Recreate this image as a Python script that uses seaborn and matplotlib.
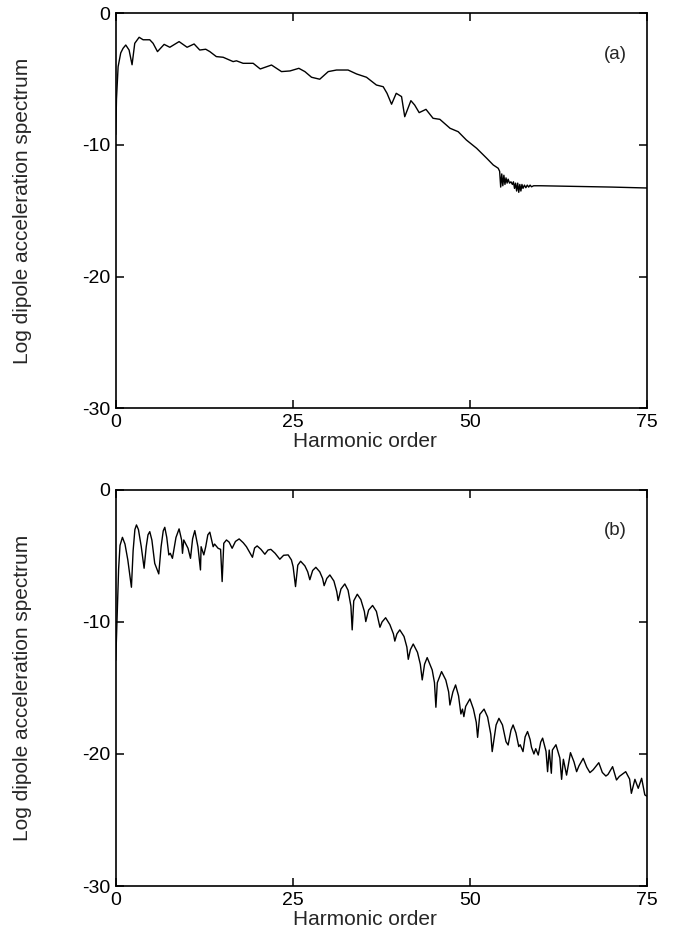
import numpy as np
import pandas as pd
import seaborn as sns
import matplotlib
matplotlib.use("Agg")
import matplotlib.pyplot as plt

# panel (a)
order_a = [0.0, 0.1, 0.33, 0.7, 1.03, 1.41, 1.88, 2.3, 2.68, 3.3, 3.86, 4.8, 5.27, 5.89,
           6.83, 7.63, 8.94, 10.07, 11.06, 11.86, 12.7, 13.28, 14.2, 15.16, 16.57, 17.04,
           17.98, 19.4, 20.4, 21.99, 23.4, 24.6, 25.85, 26.7, 27.64, 28.8, 30.0, 31.17,
           32.8, 34.0, 35.4, 36.8, 37.76, 38.3, 38.94, 39.6, 40.35, 40.8, 41.67, 42.2,
           42.84, 43.8, 44.8, 45.76, 47.2, 48.35, 49.5, 50.95, 52.36, 53.3, 54.0,
           54.2, 54.35, 54.5, 54.65, 54.8, 54.95, 55.1, 55.25, 55.4, 55.6, 55.8, 56.0,
           56.15, 56.3, 56.45, 56.6, 56.75, 56.9, 57.05, 57.2, 57.35, 57.5, 57.7, 57.9,
           58.1, 58.3, 58.5, 58.7, 59.0, 60.0, 65.0, 70.0, 75.0]
spec_a = [-9.2, -6.5, -4.05, -3.0, -2.65, -2.4, -2.78, -3.9, -2.27, -1.81, -2.0, -2.0, -2.27, -2.9,
          -2.35, -2.57, -2.14, -2.57, -2.32, -2.78, -2.72, -2.9, -3.28, -3.33, -3.66, -3.6,
          -3.79, -3.79, -4.22, -3.92, -4.42, -4.37, -4.17, -4.42, -4.85, -5.0, -4.42, -4.3,
          -4.3, -4.6, -4.85, -5.44, -5.57, -6.07, -6.9, -6.07, -6.32, -7.85, -6.63, -6.96,
          -7.54, -7.29, -7.97, -8.05, -8.73, -8.99, -9.62, -10.25, -11.0, -11.52, -11.77,
          -12.0, -13.2, -12.2, -13.1, -12.3, -13.0, -12.5, -12.9, -12.6, -12.9, -12.8, -13.0,
          -12.8, -13.3, -12.9, -13.5, -12.9, -13.6, -13.0, -13.5, -13.0, -13.3, -13.05, -13.25,
          -13.05, -13.2, -13.05, -13.18, -13.1, -13.1, -13.15, -13.2, -13.27]

# panel (b)
order_b = [0.0, 0.18, 0.4, 0.6, 0.94, 1.3, 1.7, 2.21, 2.45, 2.7, 2.92, 3.2, 3.6, 4.0,
           4.3, 4.55, 4.8, 5.1, 5.5, 6.07, 6.4, 6.7, 6.92, 7.2, 7.49, 7.7, 8.0, 8.5,
           8.94, 9.3, 9.42, 9.6, 10.2, 10.55, 10.85, 11.16, 11.6, 11.96, 12.05, 12.43,
           12.7, 13.0, 13.28, 13.75, 13.95, 14.45, 14.8, 15.02, 15.25, 15.63, 16.0, 16.43,
           16.9, 17.42, 18.0, 18.45, 19.3, 19.6, 19.96, 20.5, 21.05, 21.5, 21.9, 22.5,
           23.16, 23.7, 24.34, 24.8, 25.04, 25.38, 25.7, 26.1, 26.7, 27.1, 27.4, 27.8,
           28.25, 28.8, 29.2, 29.42, 29.8, 30.23, 30.8, 31.2, 31.4, 31.8, 32.34, 32.8,
           33.2, 33.38, 33.6, 34.1, 34.6, 35.1, 35.3, 35.7, 36.26, 36.8, 37.1, 37.3,
           37.6, 38.1, 38.7, 39.2, 39.4, 39.7, 40.1, 40.7, 41.1, 41.3, 41.6, 42.0,
           42.6, 43.0, 43.27, 43.6, 43.97, 44.68, 45.0, 45.2, 45.4, 46.0, 46.6, 47.0,
           47.18, 47.6, 47.98, 48.4, 48.73, 48.95, 49.15, 49.4, 50.0, 50.5, 50.9, 51.09,
           51.4, 52.0, 52.5, 52.95, 53.15, 53.7, 54.1, 54.6, 55.1, 55.4, 55.8, 56.1,
           56.5, 56.9, 57.1, 57.5, 57.8, 58.14, 58.5, 58.7, 59.04, 59.3, 59.65, 60.0,
           60.27, 60.75, 60.97, 61.2, 61.5, 61.65, 62.15, 62.7, 62.95, 63.2, 63.65, 64.2,
           64.7, 65.07, 65.4, 66.0, 66.5, 66.95, 67.4, 68.2, 68.7, 69.2, 69.5, 70.15,
           70.7, 71.1, 72.0, 72.55, 72.8, 73.3, 73.77, 74.25, 74.7, 75.0]
spec_b = [-12.9, -9.85, -6.0, -4.2, -3.59, -4.1, -5.3, -7.37, -4.6, -3.0, -2.65, -3.0, -4.3, -5.93,
          -4.3, -3.4, -3.16, -3.8, -5.56, -6.36, -4.3, -3.1, -2.83, -3.6, -4.92, -4.8, -5.18, -3.6,
          -2.95, -3.8, -4.8, -3.79, -4.42, -5.18, -3.7, -3.08, -4.3, -6.06, -4.3, -4.92,
          -4.3, -3.4, -3.2, -4.3, -4.1, -4.42, -4.5, -6.94, -4.04, -3.79, -3.95, -4.42,
          -3.9, -3.71, -4.0, -4.3, -5.1, -4.4, -4.24, -4.5, -4.87, -4.55, -4.5, -4.8,
          -5.25, -4.95, -4.92, -5.3, -5.81, -7.32, -5.7, -5.4, -5.75, -6.2, -6.8, -6.1,
          -5.86, -6.2, -6.7, -7.25, -6.7, -6.44, -6.9, -7.7, -8.38, -7.5, -7.12, -7.6,
          -8.8, -10.6, -8.4, -7.9, -8.3, -9.2, -9.97, -9.1, -8.75, -9.2, -9.9, -10.4,
          -10.0, -9.68, -10.2, -10.9, -11.45, -10.9, -10.6, -11.1, -11.9, -12.83, -12.1, -11.67,
          -12.3, -13.2, -14.39, -13.2, -12.7, -13.64, -14.6, -16.46, -14.6, -13.76, -14.4, -15.3,
          -16.29, -15.3, -14.77, -15.6, -16.97, -16.6, -17.17, -16.4, -15.83, -16.6, -17.6, -18.74,
          -17.0, -16.6, -17.2, -18.5, -19.82, -17.8, -17.3, -17.8, -19.07, -19.32, -18.2, -17.8,
          -18.4, -19.44, -19.3, -19.82, -18.7, -18.3, -18.9, -19.5, -20.0, -19.6, -20.08, -19.1,
          -18.8, -19.8, -21.34, -19.7, -21.46, -19.7, -19.3, -20.3, -21.92, -20.4, -21.6, -19.9,
          -20.6, -21.34, -20.9, -20.33, -21.0, -21.41, -21.2, -20.66, -21.4, -21.67, -21.55, -20.96,
          -21.97, -21.7, -21.34, -21.9, -22.98, -21.92, -22.6, -21.84, -23.1, -23.2]

panels = [("(a)", order_a, spec_a), ("(b)", order_b, spec_b)]

sns.set_theme(style="ticks")
plt.rcParams["font.family"] = ["Liberation Sans", "DejaVu Sans"]

fig = plt.figure(figsize=(6.81, 9.35), dpi=100)
boxes = [[0.170, 0.5636, 0.780, 0.4220], [0.170, 0.0524, 0.780, 0.4236]]

for (tag, xs, ys), box in zip(panels, boxes):
    ax = fig.add_axes(box)
    df = pd.DataFrame({"order": xs, "spec": ys})
    sns.lineplot(data=df, x="order", y="spec", ax=ax, color="black", linewidth=1.0,
                 sort=False, estimator=None)
    ax.set_xlim(0, 75)
    ax.set_ylim(-30, 0)
    ax.set_xticks([0, 25, 50, 75])
    ax.set_yticks([0, -10, -20, -30])
    ax.set_yticklabels(["0", "-10", "-20", "-30"])
    ax.tick_params(direction="in", length=6, width=1.1, top=True, right=True,
                   labelsize=14, colors="black", pad=4)
    for s in ax.spines.values():
        s.set_linewidth(1.2)
        s.set_color("black")
    ax.set_xlabel("Harmonic order", fontsize=15)
    ax.xaxis.set_label_coords(0.469, -0.060)
    ax.xaxis.label.set_va("top")
    ax.set_ylabel("Log dipole acceleration spectrum", fontsize=15)
    ax.yaxis.set_label_coords(-0.157, 0.5)
    ax.text(70.5, -3.1, tag, fontsize=13.5, ha="center", va="center")

fig.savefig("out.png", dpi=100)
